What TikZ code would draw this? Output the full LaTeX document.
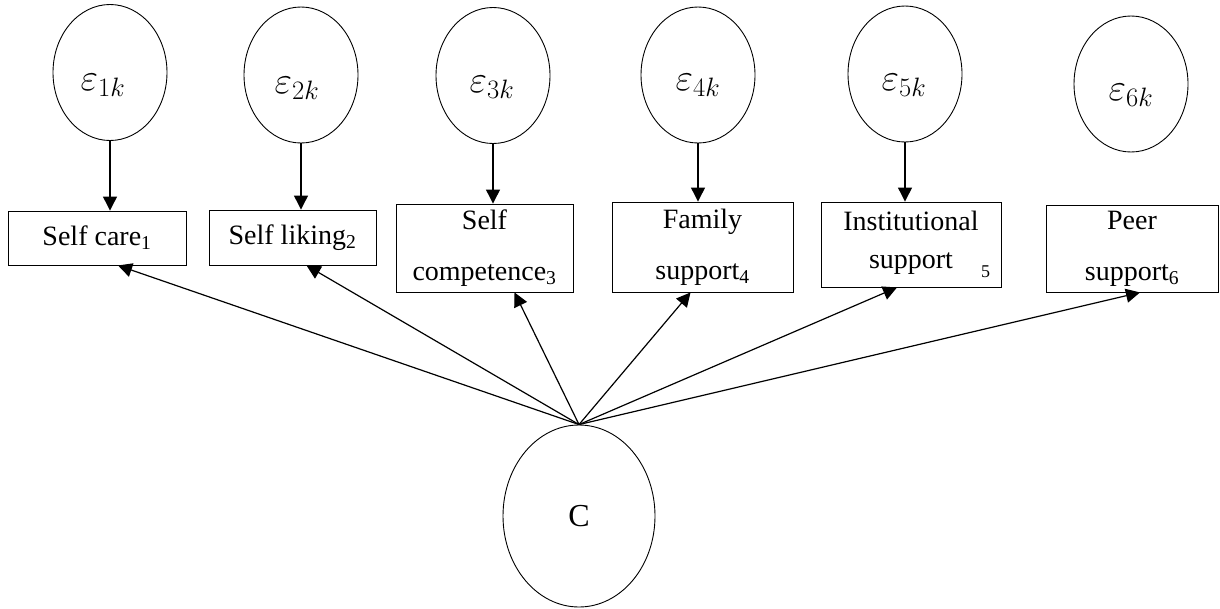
\RequirePackage{fix-cm}
\documentclass[tikz,border=0pt]{standalone}
\usepackage{fontspec}
\setmainfont{Liberation Serif}
\usetikzlibrary{arrows.meta,shapes.geometric,calc}
\begin{document}
\begin{tikzpicture}[x=1pt,y=-1pt,
  errnode/.style={draw,ellipse,line width=0.9pt,inner sep=0pt,
    minimum width=114pt,minimum height=136pt},
  errlabel/.style={font=\fontsize{38}{40}\selectfont,inner sep=0pt},
  varbox/.style={draw,rectangle,line width=0.9pt,inner sep=0pt,align=center,
    font=\fontsize{28}{51}\selectfont},
  arr/.style={line width=1.2pt,-{Triangle[length=14pt,width=14pt]}}]
\useasboundingbox (0,0) rectangle (1220,608);

% error terms, each symbol set a little below the centre of its ellipse
\node[errnode,label={[errlabel,xshift=-7pt,yshift=-13pt]center:{$\varepsilon_{1k}$}}] (e1) at (110,72.5) {};
\node[errnode,label={[errlabel,xshift=-4pt,yshift=-13pt]center:{$\varepsilon_{2k}$}}] (e2) at (301,75) {};
\node[errnode,label={[errlabel,xshift=-1pt,yshift=-12pt]center:{$\varepsilon_{3k}$}}] (e3) at (493,75.5) {};
\node[errnode,label={[errlabel,xshift=0pt,yshift=-10pt]center:{$\varepsilon_{4k}$}}] (e4) at (698,75) {};
\node[errnode,label={[errlabel,xshift=-1pt,yshift=-11pt]center:{$\varepsilon_{5k}$}}] (e5) at (905,74) {};
\node[errnode,label={[errlabel,xshift=0pt,yshift=-11pt]center:{$\varepsilon_{6k}$}}] (e6) at (1131,84) {};

% observed indicators
\node[varbox,minimum width=178pt,minimum height=54pt] (b1) at (97,238)
  {Self care\textsubscript{1}};
\node[varbox,minimum width=167pt,minimum height=55pt] (b2) at (292.5,237.5)
  {Self liking\textsubscript{2}};
\node[varbox,minimum width=177pt,minimum height=88pt] (b3) at (484.5,248)
  {Self\\competence\textsubscript{3}};
\node[varbox,minimum width=181pt,minimum height=90pt] (b4) at (702.5,247)
  {Family\\support\textsubscript{4}};
\node[varbox,minimum width=180pt,minimum height=85pt,
  font=\fontsize{28}{38}\selectfont] (b5) at (911,244.5)
  {Institutional\\support\rlap{\hspace{28pt}\raisebox{-9pt}{\fontsize{18}{18}\selectfont 5}}};
\node[varbox,minimum width=172pt,minimum height=87pt] (b6) at (1132,248.5)
  {Peer\\support\textsubscript{6}};

% common factor
\node[draw,ellipse,line width=0.9pt,inner sep=0pt,minimum width=152pt,
  minimum height=182pt,font=\fontsize{32}{34}\selectfont] (C) at (579,516) {C};

% error paths
\foreach \i in {1,...,5}
  \draw[arr] (e\i.south) -- (e\i.south |- b\i.north);

% loadings
\draw[arr] (C.north) -- ($(b1.south)+(21,0)$);
\draw[arr] (C.north) -- ($(b2.south)+(14,0)$);
\draw[arr] (C.north) -- ($(b3.south)+(30,0)$);
\draw[arr] (C.north) -- ($(b4.south)+(-12,0)$);
\draw[arr] (C.north) -- ($(b5.south)+(-14,0)$);
\draw[arr] (C.north) -- ($(b6.south)+(8,0)$);
\end{tikzpicture}
\end{document}
